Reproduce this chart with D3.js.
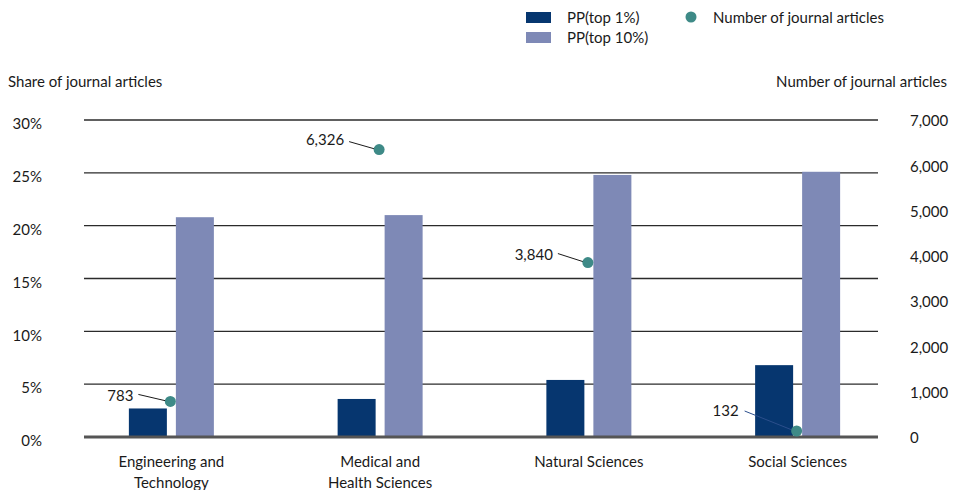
<!DOCTYPE html>
<html>
<head>
<meta charset="utf-8">
<script src="https://cdn.jsdelivr.net/npm/d3@7"></script>
<style>
  html, body { margin: 0; padding: 0; background: #fff; }
  svg { display: block; font-family: Lato, "Noto Sans", sans-serif; }
</style>
</head>
<body>
<svg id="chart" width="955" height="490"></svg>
<script>
// data
const categories = [
  ["Engineering and", "Technology"],
  ["Medical and", "Health Sciences"],
  ["Natural Sciences"],
  ["Social Sciences"]
];
const seriesNames = ["PP(top 1%)", "PP(top 10%)"];
const ppTop1 = [2.7, 3.6, 5.4, 6.8];
const ppTop10 = [20.8, 21.0, 24.8, 25.1];
const articles = [783, 6326, 3840, 132];
const shareTicks = [0, 5, 10, 15, 20, 25, 30];
const countTicks = [0, 1000, 2000, 3000, 4000, 5000, 6000, 7000];

// where each number label sits relative to its dot (layout only)
const labelOffsets = [
  {lx: -38, ly: -6, x1: -33, y1: -7},
  {lx: -36, ly: -10, x1: -31, y1: -8},
  {lx: -36, ly: -8, x1: -31, y1: -9},
  {lx: -59, ly: -20, x1: -53, y1: -20}
];

const colors = {
  dark: "#06366f",
  light: "#7e89b6",
  dot: "#3e8a87",
  text: "#1a1a1a"
};
const fontSize = "15px";

const svg = d3.select("#chart");
const keys = categories.map(function(d) { return d.join(" "); });

const x = d3.scaleBand().domain(keys).range([67, 902]);
const xInner = d3.scaleBand().domain(seriesNames).range([-42.5, 42.5]).paddingInner(0.1915);
const yLeft = d3.scaleLinear().domain([0, 30]).range([437, 120]);
const yRight = d3.scaleLinear().domain([0, 7000]).range([437, 119]);
const yRightTick = d3.scaleLinear().domain([0, 7000]).range([438, 121]);

const cx = function(i) { return x(keys[i]) + x.bandwidth() / 2; };

// gridlines
svg.append("g").selectAll("line")
  .data(shareTicks.filter(function(d) { return d > 0; }))
  .enter().append("line")
  .attr("x1", 84).attr("x2", 878)
  .attr("y1", function(d) { return yLeft(d); })
  .attr("y2", function(d) { return yLeft(d); })
  .style("stroke", "#2b2b2b")
  .style("stroke-width", "1.3px");

// left tick labels
svg.append("g").selectAll("text")
  .data(shareTicks)
  .enter().append("text")
  .attr("x", 42)
  .attr("y", function(d) { return yLeft(d) + 4; })
  .attr("dy", "0.35em")
  .attr("text-anchor", "end")
  .style("font-size", fontSize)
  .style("fill", colors.text)
  .text(function(d) { return d + "%"; });

// right tick labels
svg.append("g").selectAll("text")
  .data(countTicks)
  .enter().append("text")
  .attr("x", 910)
  .attr("y", function(d) { return yRightTick(d); })
  .attr("dy", "0.35em")
  .style("font-size", fontSize)
  .style("fill", colors.text)
  .text(function(d) { return d3.format(",")(d); });

// axis titles
svg.append("text")
  .attr("x", 8).attr("y", 82).attr("dy", "0.35em")
  .style("font-size", fontSize).style("fill", colors.text)
  .text("Share of journal articles");
svg.append("text")
  .attr("x", 947).attr("y", 82).attr("dy", "0.35em")
  .attr("text-anchor", "end")
  .style("font-size", fontSize).style("fill", colors.text)
  .text("Number of journal articles");

// bars
const barData = [];
keys.forEach(function(k, i) {
  barData.push({cat: k, series: seriesNames[0], value: ppTop1[i], color: colors.dark});
  barData.push({cat: k, series: seriesNames[1], value: ppTop10[i], color: colors.light});
});

svg.append("g").selectAll("rect")
  .data(barData)
  .enter().append("rect")
  .attr("x", function(d) { return x(d.cat) + x.bandwidth() / 2 + xInner(d.series); })
  .attr("width", xInner.bandwidth())
  .attr("y", function(d) { return yLeft(d.value); })
  .attr("height", function(d) { return yLeft(0) - yLeft(d.value); })
  .style("fill", function(d) { return d.color; });

// baseline
svg.append("line")
  .attr("x1", 84).attr("x2", 878)
  .attr("y1", yLeft(0)).attr("y2", yLeft(0))
  .style("stroke", "#555")
  .style("stroke-width", "3px");

// leader lines, dots and labels
const notes = svg.append("g").selectAll("g")
  .data(articles)
  .enter().append("g");

notes.append("line")
  .attr("x1", function(d, i) { return cx(i) + labelOffsets[i].x1; })
  .attr("y1", function(d, i) { return yRight(d) + labelOffsets[i].y1; })
  .attr("x2", function(d, i) { return cx(i) - 3; })
  .attr("y2", function(d, i) { return yRight(d); })
  .style("stroke", function(d, i) { return i === 3 ? "#2c4f8c" : "#1a1a1a"; })
  .style("stroke-width", "1px");

notes.append("circle")
  .attr("cx", function(d, i) { return cx(i) - 1; })
  .attr("cy", function(d) { return yRight(d); })
  .attr("r", 5.5)
  .style("fill", colors.dot);

notes.append("text")
  .attr("x", function(d, i) { return cx(i) + labelOffsets[i].lx; })
  .attr("y", function(d, i) { return yRight(d) + labelOffsets[i].ly; })
  .attr("dy", "0.35em")
  .attr("text-anchor", "end")
  .style("font-size", fontSize)
  .style("fill", colors.text)
  .text(function(d) { return d3.format(",")(d); });

// category labels
const catLabels = svg.append("g").selectAll("text")
  .data(categories)
  .enter().append("text")
  .attr("text-anchor", "middle")
  .style("font-size", fontSize)
  .style("fill", colors.text);

catLabels.selectAll("tspan")
  .data(function(d, i) { return d.map(function(line) { return {line: line, i: i}; }); })
  .enter().append("tspan")
  .attr("x", function(d) { return cx(d.i); })
  .attr("y", function(d, j) { return 462 + j * 21; })
  .attr("dy", "0.35em")
  .text(function(d) { return d.line; });

// legend
const legend = svg.append("g");
legend.selectAll("rect")
  .data(seriesNames)
  .enter().append("rect")
  .attr("x", 526)
  .attr("y", function(d, i) { return 12 + i * 20; })
  .attr("width", 25).attr("height", 11)
  .style("fill", function(d, i) { return i === 0 ? colors.dark : colors.light; });
legend.selectAll("text.series")
  .data(seriesNames)
  .enter().append("text")
  .attr("class", "series")
  .attr("x", 567)
  .attr("y", function(d, i) { return 18 + i * 20; })
  .attr("dy", "0.35em")
  .style("font-size", fontSize).style("fill", colors.text)
  .text(function(d) { return d; });
legend.append("circle")
  .attr("cx", 691).attr("cy", 17).attr("r", 5.5)
  .style("fill", colors.dot);
legend.append("text")
  .attr("x", 713).attr("y", 18).attr("dy", "0.35em")
  .style("font-size", fontSize).style("fill", colors.text)
  .text("Number of journal articles");
</script>
</body>
</html>
